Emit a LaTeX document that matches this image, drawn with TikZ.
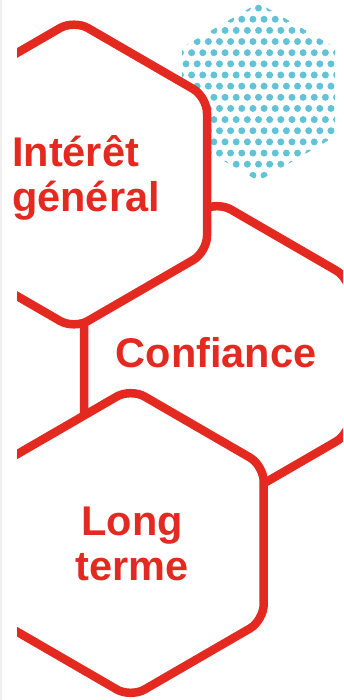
\documentclass[tikz,border=0pt]{standalone}
\usepackage{fontspec}
\setmainfont{Liberation Sans}
\usetikzlibrary{positioning}
\definecolor{brandred}{RGB}{227,41,32}
\definecolor{dotblue}{RGB}{98,195,215}

\begin{document}
\begin{tikzpicture}[
    x=1pt, y=-1pt,
    hexa/.style={draw=brandred, fill=white, line width=8.5pt, rounded corners=16pt, line join=round},
    word/.style={text=brandred, font=\bfseries\fontsize{41.5}{45}\selectfont, inner sep=0pt},
    dot/.style={fill=dotblue}
]
    \useasboundingbox (0,0) rectangle (343,700);
    \draw[gray!12, line width=1.5pt] (0.75,0) -- (0.75,700);

    \begin{scope}
        \clip (17,0) rectangle (343,700);
        % dotted hexagon behind
        \begin{scope}
            \clip (258.5,3) -- (335,47.4) -- (335,136.6) -- (258.5,181) -- (182,136.6) -- (182,47.4) -- cycle;
            \foreach \k in {0,...,15} {
                \pgfmathsetmacro{\shift}{mod(\k,2)*5.575}
                \foreach \m in {-8,...,7}
                    \fill[dot] ({258.5+\shift+11.15*\m}, {8.1+11.15*\k}) circle (3.5pt);
            }
        \end{scope}

        % red hexagons
        \path[hexa] (217,201.5) -- (350,278.5) -- (350,433.5) -- (217,510.5) -- (84,433.5) -- (84,278.5) -- cycle;
        \path[hexa] (74,20) -- (207,97) -- (207,252) -- (74,329) -- (-59,252) -- (-59,97) -- cycle;
        \path[hexa] (130.7,388.5) -- (263.7,465.5) -- (263.7,620.5) -- (130.7,697.5) -- (-2.3,620.5) -- (-2.3,465.5) -- cycle;
    \end{scope}

    \node[word, anchor=base west, align=left] (general) at (12,212) {Intérêt\\général};
    \node[word, anchor=base] (confiance) at (216,367) {Confiance};
    \node[word, anchor=base, align=center] (longterme) at (132,580) {Long\\terme};
\end{tikzpicture}
\end{document}
